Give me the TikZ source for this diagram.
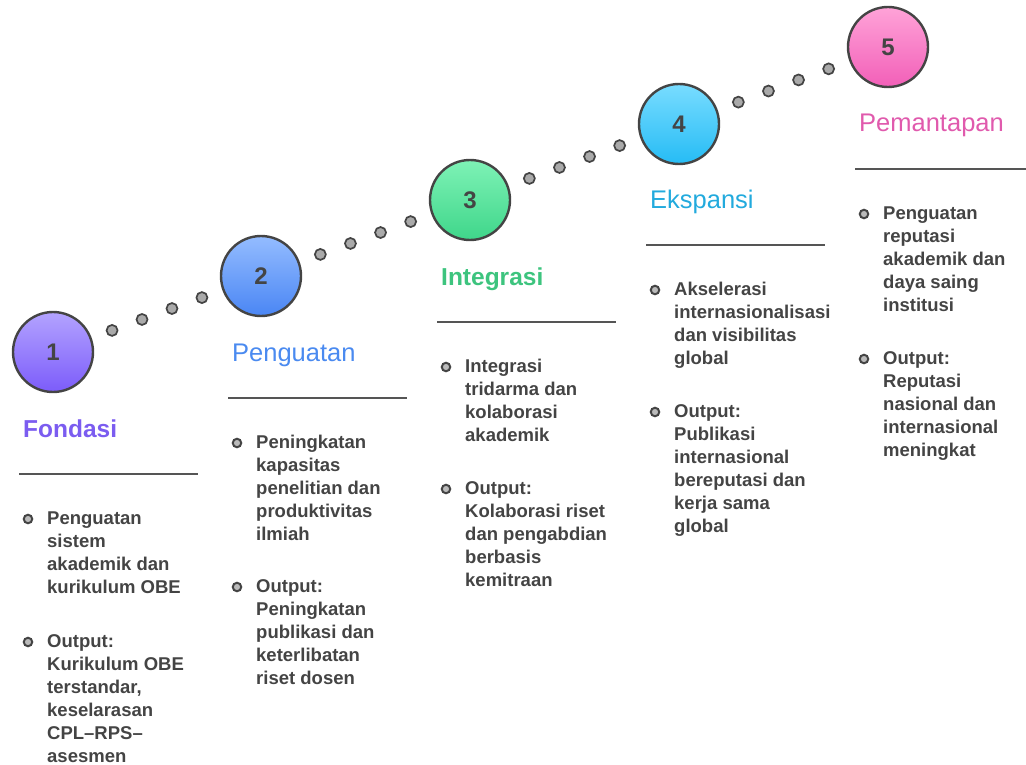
\documentclass[tikz,border=0pt]{standalone}
\usepackage{fontspec}
\setmainfont{Liberation Sans}
\usetikzlibrary{calc}
\definecolor{ink}{HTML}{444444}
\definecolor{rulec}{HTML}{555555}
\definecolor{dotfill}{HTML}{AAAAAA}
\definecolor{cAtop}{HTML}{B3A3FF}\definecolor{cAbot}{HTML}{7C5CFA}\definecolor{cAt}{HTML}{7B5CF0}
\definecolor{cBtop}{HTML}{94BCFF}\definecolor{cBbot}{HTML}{4A86F4}\definecolor{cBt}{HTML}{4A8AF0}
\definecolor{cCtop}{HTML}{7EF2B6}\definecolor{cCbot}{HTML}{3FD68A}\definecolor{cCt}{HTML}{3DC47E}
\definecolor{cDtop}{HTML}{78DCFF}\definecolor{cDbot}{HTML}{26BCF5}\definecolor{cDt}{HTML}{22AADD}
\definecolor{cEtop}{HTML}{FFA3D8}\definecolor{cEbot}{HTML}{F25FB8}\definecolor{cEt}{HTML}{E05AAD}
\tikzset{
  x=1pt,y=-1pt,
  stage/.style={circle,draw=ink,line width=2.4pt,minimum size=80pt,inner sep=0pt,
    font=\fontsize{24}{24}\selectfont\bfseries,text=ink},
  dotnode/.style={circle,draw=ink,fill=dotfill,line width=1.7pt,minimum size=11pt,inner sep=0pt},
  titleb/.style={anchor=base west,inner sep=0pt,font=\fontsize{24.5}{24}\selectfont\bfseries},
  titler/.style={anchor=base west,inner sep=0pt,font=\fontsize{25.5}{24}\selectfont},
  rulel/.style={draw=rulec,line width=2pt},
  bul/.style={circle,draw=ink,fill=dotfill!80,line width=2pt,minimum size=8.5pt,inner sep=0pt},
  btxt/.style={anchor=base west,inner sep=0pt,align=left,text=ink,
    font=\fontsize{18.5}{23}\selectfont\bfseries},
}
\begin{document}
\begin{tikzpicture}
\useasboundingbox (0,0) rectangle (1026,765);
% stage circles
\node[stage,top color=cAtop,bottom color=cAbot] (c1) at (53,352) {1};
\node[stage,top color=cBtop,bottom color=cBbot] (c2) at (261,276) {2};
\node[stage,top color=cCtop,bottom color=cCbot] (c3) at (470,200) {3};
\node[stage,top color=cDtop,bottom color=cDbot] (c4) at (679,124) {4};
\node[stage,top color=cEtop,bottom color=cEbot] (c5) at (888,47) {5};
% dotted connectors
\foreach \a/\b in {c1/c2,c2/c3,c3/c4,c4/c5}{
  \foreach \f [count=\i] in {0.284,0.428,0.572,0.716}{
    \node[dotnode] (d\a\i) at ($(\a)!\f!(\b)$) {};
  }
}
% titles
\node[titleb,text=cAt] (t1) at (23,437) {Fondasi};
\node[titler,text=cBt] (t2) at (232,361) {Penguatan};
\node[titleb,text=cCt] (t3) at (441,285) {Integrasi};
\node[titler,text=cDt] (t4) at (650,208) {Ekspansi};
\node[titler,text=cEt] (t5) at (859,132) {Pemantapan};
% rules
\coordinate (r1a) at (19,474); \coordinate (r1b) at (198,474);
\coordinate (r2a) at (228,398); \coordinate (r2b) at (407,398);
\coordinate (r3a) at (437,322); \coordinate (r3b) at (616,322);
\coordinate (r4a) at (646,245); \coordinate (r4b) at (825,245);
\coordinate (r5a) at (855,169); \coordinate (r5b) at (1026,169);
\foreach \k in {1,...,5}{\draw[rulel] (r\k a) -- (r\k b);}
% column 1 (anchors at baseline of last line)
\node[bul] (b1a) at (28,519) {};
\node[btxt] (x1a) at (47,593.5) {Penguatan\\sistem\\akademik dan\\kurikulum OBE};
\node[bul] (b1b) at (28,642) {};
\node[btxt] (x1b) at (47,762.5) {Output:\\Kurikulum OBE\\terstandar,\\keselarasan\\CPL–RPS–\\asesmen};
% column 2
\node[bul] (b2a) at (237,443) {};
\node[btxt] (x2a) at (256,540.5) {Peningkatan\\kapasitas\\penelitian dan\\produktivitas\\ilmiah};
\node[bul] (b2b) at (237,587) {};
\node[btxt] (x2b) at (256,684.5) {Output:\\Peningkatan\\publikasi dan\\keterlibatan\\riset dosen};
% column 3
\node[bul] (b3a) at (446,367) {};
\node[btxt] (x3a) at (465,441.5) {Integrasi\\tridarma dan\\kolaborasi\\akademik};
\node[bul] (b3b) at (446,489) {};
\node[btxt] (x3b) at (465,586.5) {Output:\\Kolaborasi riset\\dan pengabdian\\berbasis\\kemitraan};
% column 4
\node[bul] (b4a) at (655,290) {};
\node[btxt] (x4a) at (674,364.5) {Akselerasi\\internasionalisasi\\dan visibilitas\\global};
\node[bul] (b4b) at (655,412) {};
\node[btxt] (x4b) at (674,532.5) {Output:\\Publikasi\\internasional\\bereputasi dan\\kerja sama\\global};
% column 5
\node[bul] (b5a) at (864,214) {};
\node[btxt] (x5a) at (883,311.5) {Penguatan\\reputasi\\akademik dan\\daya saing\\institusi};
\node[bul] (b5b) at (864,359) {};
\node[btxt] (x5b) at (883,456.5) {Output:\\Reputasi\\nasional dan\\internasional\\meningkat};
\end{tikzpicture}
\end{document}
